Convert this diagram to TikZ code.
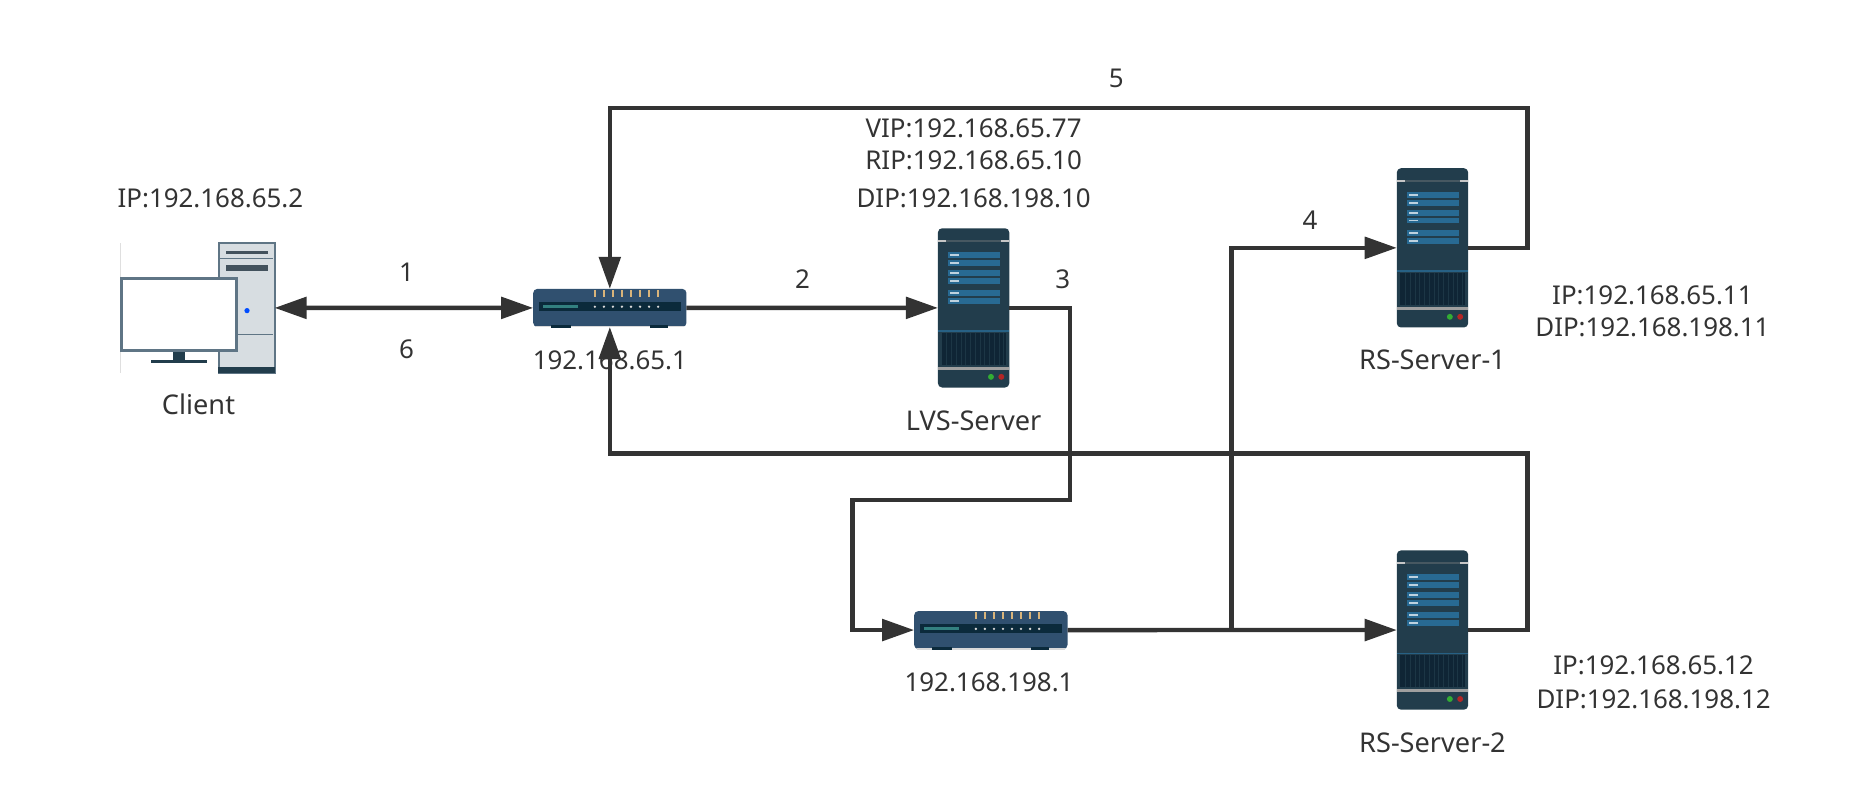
\documentclass[tikz,border=0pt]{standalone}
\usepackage{fontspec}
\setmainfont{Noto Sans}
\usetikzlibrary{arrows.meta}
\definecolor{inkgray}{HTML}{333333}
\definecolor{serverbody}{HTML}{223D4C}
\definecolor{serverpanel}{HTML}{286A93}
\definecolor{serverdark}{HTML}{0F2535}
\definecolor{routerbody}{HTML}{30506F}
\definecolor{routerbar}{HTML}{0B2A3B}
\definecolor{ledamber}{HTML}{D9B47A}
\definecolor{towerfill}{HTML}{D7DDE1}
\definecolor{towerline}{HTML}{5F7585}
\tikzset{
    lbl/.style={inner sep=0pt, text=inkgray, font=\fontsize{12.4}{15}\selectfont, text height=10.3pt, text depth=1.5pt},
    namelbl/.style={lbl, font=\fontsize{13}{15}\selectfont},
    flowline/.style={line width=2.1pt, draw=inkgray},
    flowarrow/.style={flowline, -{Triangle[length=5.4mm,width=3.6mm]}},
    serverbox/.style={rectangle, rounded corners=2pt, fill=serverbody, anchor=north west, minimum width=1.2cm, minimum height=2.68cm, inner sep=0pt, outer sep=0pt},
    routerbox/.style={rectangle, rounded corners=2pt, fill=routerbody, anchor=north west, minimum width=2.58cm, minimum height=0.64cm, inner sep=0pt, outer sep=0pt},
    towerbox/.style={rectangle, draw=towerline, fill=towerfill, line width=0.9pt, anchor=north west, minimum width=0.94cm, minimum height=2.18cm, inner sep=0pt, outer sep=0pt},
    serverface/.pic={
        \fill[gray!45] (0,10) rectangle (60,11.2);
        \fill[serverbody!60!gray] (7,10) rectangle (53,11.2);
        \foreach \ya/\yb in {20.2/25, 26.9/31.7, 35.3/40, 41.8/46.5, 52.1/57.2, 58.9/63.9} {
            \fill[serverpanel] (8.4,\ya) rectangle (52,\yb);
            \fill[white!70!serverpanel] (10,\ya+1.7) rectangle (18,\yb-1.7);
        }
        \fill[serverpanel!80!serverbody] (0,86) rectangle (60,87);
        \fill[serverdark] (3,88) rectangle (57,115);
        \foreach \xa in {7,11,...,55} {
            \fill[serverbody!70!serverdark] (\xa,88) rectangle (\xa+0.8,115);
        }
        \fill[gray!75] (0,116.6) rectangle (60,119.4);
        \fill[green!60!black!80!white] (44.6,125) circle (2.5);
        \fill[red!65!black!85!white] (53.3,125) circle (2.5);
    },
    routerface/.pic={
        \fill[routerbar] (15.4,30) rectangle (31.4,33);
        \fill[routerbar] (98,30) rectangle (113.5,33);
        \fill[gray!30] (2,31.4) rectangle (15.4,32.4);
        \fill[gray!30] (31.4,31.4) rectangle (98,32.4);
        \fill[gray!30] (113.5,31.4) rectangle (127,32.4);
        \fill[routerbar] (5,11.2) rectangle (124,18.5);
        \fill[teal!60!gray] (8,13.5) rectangle (38,16);
        \foreach \xa in {51.9,59.5,...,106} {
            \fill[white!70!gray] (\xa,15) circle (1.1);
            \fill[ledamber] (\xa-1,1) rectangle (\xa+1,6.5);
        }
    },
    clientface/.pic={
        \draw[gray!25, line width=0.5pt] (-82.5,0) -- (-82.5,109);
        \fill[towerline!70!black] (6,6.7) rectangle (41.5,8.9);
        \draw[towerline, line width=0.7pt] (1,13) -- (46,13);
        \fill[towerline!70!black] (6,18) rectangle (41.5,23.5);
        \draw[towerline, line width=0.7pt] (1,76.8) -- (46,76.8);
        \fill[blue!70!cyan] (23.8,56.8) circle (2.2);
        \fill[serverbody] (-0.5,104.5) rectangle (47.5,109.5);
        \fill[serverbody] (-38.4,90) rectangle (-28.4,98);
        \fill[serverbody] (-57,98) rectangle (-10,101);
        \draw[towerline, fill=white, line width=1.5pt] (-81.6,29.5) rectangle (14.8,90.5);
    },
}
\begin{document}
\begin{tikzpicture}[x=0.02cm, y=-0.02cm]
    \useasboundingbox (0,0) rectangle (1568,661.2);

    % devices
    \node[towerbox] (client) at (184,204.5) {};
    \pic at (client.north west) {clientface};
    \node[routerbox] (router1) at (448.5,243) {};
    \pic at (router1.north west) {routerface};
    \node[routerbox] (router2) at (769,514) {};
    \pic at (router2.north west) {routerface};
    \node[serverbox] (lvs) at (789,192) {};
    \pic at (lvs.north west) {serverface};
    \node[serverbox] (rs1) at (1175,141.5) {};
    \pic at (rs1.north west) {serverface};
    \node[serverbox] (rs2) at (1175,463) {};
    \pic at (rs2.north west) {serverface};

    % labels
    \node[lbl] (clientip) at (177,167) {IP:192.168.65.2};
    \node[namelbl] (clientname) at (167,341) {Client};
    \node[lbl] (router1ip) at (513,303) {192.168.65.1};
    \node[lbl] (router2ip) at (832,574) {192.168.198.1};
    \node[lbl] (vip) at (819,108) {VIP:192.168.65.77};
    \node[lbl] (rip) at (819,135) {RIP:192.168.65.10};
    \node[lbl] (dip) at (819,167) {DIP:192.168.198.10};
    \node[namelbl] (lvsname) at (819,354) {LVS-Server};
    \node[namelbl] (rs1name) at (1205,303) {RS-Server-1};
    \node[lbl] (rs1ip) at (1390,248) {IP:192.168.65.11};
    \node[lbl] (rs1dip) at (1390,275) {DIP:192.168.198.11};
    \node[namelbl] (rs2name) at (1205,625) {RS-Server-2};
    \node[lbl] (rs2ip) at (1391,560) {IP:192.168.65.12};
    \node[lbl] (rs2dip) at (1391,588) {DIP:192.168.198.12};
    \node[lbl] (step1) at (342,229) {1};
    \node[lbl] (step2) at (675,235) {2};
    \node[lbl] (step3) at (894,235) {3};
    \node[lbl] (step4) at (1102,185) {4};
    \node[lbl] (step5) at (939,66) {5};
    \node[lbl] (step6) at (342,294) {6};

    % bend points
    \coordinate (bend3a) at (900,420.5);
    \coordinate (bend3b) at (717,420.5);
    \coordinate (branch) at (1036,530);
    \coordinate (top5) at (1285,91);
    \coordinate (low6) at (1285,381.5);

    % connectors
    \draw[flowarrow, {Triangle[length=5.4mm,width=3.6mm]}-{Triangle[length=5.4mm,width=3.6mm]}] (client.east) -- (router1.west);
    \draw[flowarrow] (router1.east) -- (lvs.west);
    \draw[flowarrow] (lvs.east) -| (bend3a) -- (bend3b) |- (router2.west);
    \draw[flowarrow] (router2.east) -- (rs2.west);
    \draw[flowarrow] (branch) |- (rs1.west);
    \draw[flowarrow] (rs1.east) -| (top5) -| (router1.north);
    \draw[flowarrow] (rs2.east) -| (low6) -| (router1.south);
\end{tikzpicture}
\end{document}
